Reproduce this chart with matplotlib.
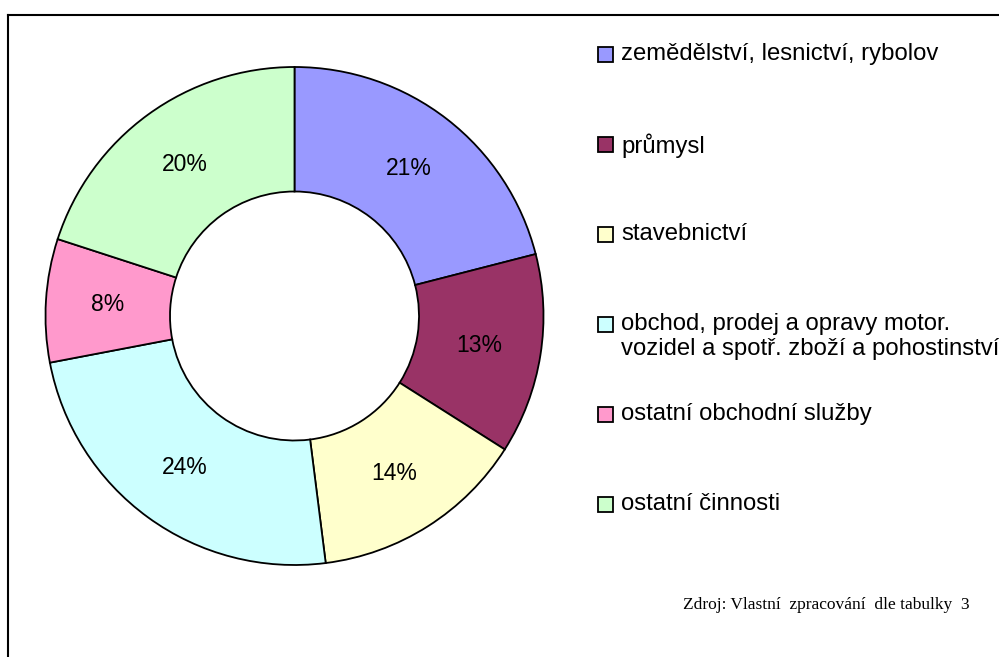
import matplotlib.pyplot as plt
from matplotlib.patches import Rectangle
from matplotlib.lines import Line2D

labels = ["zemědělství, lesnictví, rybolov",
          "průmysl",
          "stavebnictví",
          "obchod, prodej a opravy motor.\nvozidel a spotř. zboží a pohostinství",
          "ostatní obchodní služby",
          "ostatní činnosti"]
values = [21, 13, 14, 24, 8, 20]
colors = ["#9999FF", "#993366", "#FFFFCC", "#CCFFFF", "#FF99CC", "#CCFFCC"]
source = "Zdroj: Vlastní  zpracování  dle tabulky  3"

W, H = 999, 657
fig = plt.figure(figsize=(W / 100, H / 100), dpi=100)

# donut: center (294.5, 316) px, radius 249 px
cx, cy, r = 294.5, 316, 249
ax = fig.add_axes([(cx - r) / W, (H - cy - r) / H, 2 * r / W, 2 * r / H])
wedges, texts, autotexts = ax.pie(
    values, colors=colors, startangle=90, counterclock=False,
    autopct="%d%%", pctdistance=0.75, radius=1.0,
    wedgeprops=dict(width=0.5, edgecolor="black", linewidth=1.3),
    textprops=dict(fontsize=16.5, family="Liberation Sans", color="black"))
ax.set_xlim(-1, 1)
ax.set_ylim(-1, 1)
ax.set_aspect("auto")
for w in wedges:
    w.set_clip_on(False)
ax.axis("off")

# legend drawn by hand
sq = 15
x_sq, x_txt = 598, 621
y0, step = 54.5, 90
for i, (lab, col) in enumerate(zip(labels, colors)):
    yc = y0 + i * step
    fig.add_artist(Rectangle((x_sq / W, (H - yc - sq / 2) / H), sq / W, sq / H,
                             facecolor=col, edgecolor="black", linewidth=1.3,
                             transform=fig.transFigure))
    fig.text(x_txt / W, (H - yc + 11.5) / H, lab, fontsize=17.2,
             family="Liberation Sans", va="top", ha="left", linespacing=1.15)

fig.text(970 / W, (H - 609) / H, source, fontsize=12.5,
         family="Liberation Serif", ha="right", va="baseline")

# frame (right and bottom edges are outside the picture)
fig.add_artist(Line2D([8 / W, 8 / W], [0, (H - 15) / H], color="black",
                      linewidth=1.5, transform=fig.transFigure))
fig.add_artist(Line2D([8 / W, 1], [(H - 15) / H, (H - 15) / H], color="black",
                      linewidth=1.5, transform=fig.transFigure))

fig.savefig("out.png", dpi=100)
